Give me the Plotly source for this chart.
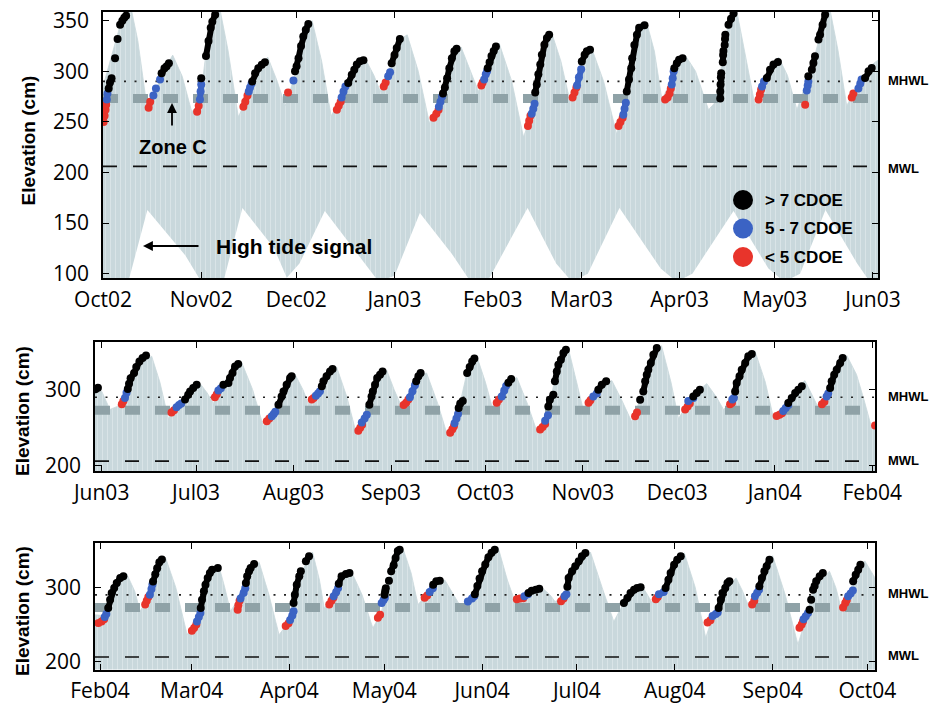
import plotly.graph_objects as go
from datetime import datetime, timedelta

# ---------------- reference levels (cm) ----------------
MHWL = 290
MWL = 206
ZONE_C = 273

PANEL_STARTS = ["2002-10-01", "2003-06-01", "2004-02-01"]
X_RANGES = [["2002-10-01", "2003-06-02 14:00"],
            ["2003-05-29 21:00", "2004-02-01 21:00"],
            ["2004-01-30 10:00", "2004-10-03 10:00"]]
Y_RANGES = [[95.7, 358.6], [193, 362.8], [189, 360.2]]
Y_TICKS = [[100, 150, 200, 250, 300, 350], [200, 300], [200, 300]]

# ---------------- high tide signal envelopes (day offset from panel start, cm) ----------------
P1_UP_DAY = [0, 3, 6, 8.5, 11, 14, 16.5, 19, 22, 25, 28, 30.5, 33, 36.5, 39.5, 42.7, 45, 48, 52, 55, 57.5,
             60.5, 63, 66, 69, 72, 75, 78, 82.5, 85.5, 87.5, 90, 93, 96, 99.5, 103, 106, 109, 113, 116, 118.5,
             121, 125, 129, 132.7, 135, 138, 141.6, 144.5, 147.4, 150, 154.3, 158, 162.1, 165, 168, 171.6, 174,
             176.4, 179.5, 183.7, 187, 191.1, 194, 196, 199.5, 202.5, 205.8, 208.5, 213.2, 216, 219, 222, 225,
             229, 232, 234.7, 238, 242, 245]
P1_UP_CM = [285, 318, 352, 368, 330, 262, 280, 300, 316, 295, 260, 268, 330, 368, 320, 255, 270, 298, 314, 290, 266,
            295, 335, 350, 310, 256, 272, 296, 314, 296, 280, 298, 330, 336, 300, 249, 265, 300, 324, 300, 280,
            300, 328, 290, 235, 255, 305, 338, 310, 270, 295, 322, 290, 238, 270, 335, 348, 320,
            272, 292, 316, 300, 262, 272, 330, 368, 320, 266, 288, 314, 296, 262, 290, 320,
            368, 320, 266, 285, 305, 312]
P1_LOW_DAY = [-1, 8, 14, 26, 31, 38, 44, 54, 58, 62, 70, 80, 87, 92, 100, 110, 116, 122, 134, 143, 148, 153,
              163, 176, 181, 186, 199, 210, 215, 220, 228, 238, 242, 246]
P1_LOW_CM = [90, 92, 163, 118, 92, 92, 165, 125, 96, 110, 162, 120, 92, 98, 160, 120, 92, 96, 165, 110, 92, 100,
             165, 105, 92, 100, 162, 105, 92, 100, 163, 110, 92, 92]

P2_UP_DAY = [-2.5, 0, 2.6, 5, 8, 12, 15.9, 18.5, 21.2, 24, 28, 31.3, 33.5, 35.5, 38, 42, 44.5, 48, 51.4, 54, 58,
             61.5, 64, 65.7, 68, 72, 74.7, 78, 81.1, 84, 87, 90.6, 93, 94.9, 98, 101.5, 103.3, 107, 110.2, 113,
             116, 119.2, 122, 124.5, 127, 130, 132, 135.5, 138.8, 142, 145, 148.4, 151, 153.1, 156, 159, 162.2,
             165.5, 168.5, 171, 174, 178, 181, 183.4, 186, 189, 192.4, 195.5, 197.7, 200.5, 203, 207.7, 211,
             213.6, 216.5, 220, 223.6, 226, 227.9, 230, 233, 236.9, 240, 242.5, 244.8, 246]
P2_UP_CM = [300, 298, 274, 278, 300, 335, 344, 310, 262, 280, 298, 308, 296, 282, 304, 330, 336, 300, 252, 268, 300,
            320, 300, 282, 294, 322, 330, 290, 240, 265, 305, 326, 300, 282, 290, 320, 322, 280, 236, 265,
            320, 345, 310, 272, 290, 312, 316, 280, 240, 275, 330, 354, 310, 274, 290, 305, 312,
            285, 258, 285, 325, 358, 310, 262, 280, 297, 308, 290, 274, 285, 320, 351, 310,
            263, 270, 298, 312, 292, 276, 285, 320, 345, 320, 285, 250, 250]

P3_UP_DAY = [-1.6, 1, 4, 8.5, 11, 12.7, 15, 18, 20.7, 24, 27.6, 30, 33, 37.6, 39.5, 41.3, 44, 47, 50.4, 53.5,
             56.7, 59.5, 63, 67.3, 69.5, 71, 73.5, 76.5, 80, 83, 86.4, 89, 93, 96, 98.5, 100.7, 103.5, 106.5,
             109.2, 112, 114.5, 117, 120, 124, 126.1, 129, 131.4, 134, 137, 139.9, 142.5, 144.1, 147, 150,
             155.3, 159, 162.7, 166, 169, 171.7, 173.5, 174.9, 177, 180, 185, 188.5, 191.8, 194, 197, 201.4,
             203.5, 205.6, 207.5, 210, 213, 217, 221, 223, 226, 231, 233, 234.8, 237, 240, 242.2, 245.4, 247]
P3_UP_CM = [263, 262, 295, 318, 295, 268, 285, 325, 341, 300, 236, 252, 300, 330, 300, 268, 285, 320, 334, 290,
            236, 252, 315, 348, 310, 272, 285, 314, 318, 290, 245, 265, 335, 352, 320, 277, 290, 307,
            310, 290, 272, 283, 312, 348, 354, 310, 281, 288, 296, 300, 290, 281, 287, 325,
            348, 300, 254, 280, 296, 302, 290, 279, 288, 312, 347, 300, 232, 260, 292, 313,
            295, 272, 285, 322, 343, 290, 223, 250, 300, 322, 300, 270, 290, 326, 336, 313, 310]

N = None
# ---------------- CDOE dots: panel 1 (days from 2002-10-01) ----------------
P1_RED_DAY = [0.2, 0.5, 0.8, 1.0, N, 14.4, 14.9, N, 29.7, 30.2, N, 44.3, 44.9, 45.6, N, 58.4, N, 73.8, 74.4, 75.0, N,
              88.6, 89.2, N, 104.3, 105.2, 105.9, N, 119.4, 119.8, N, 134.1, 134.5, 134.9, N, 148.2, 148.8, 149.4, N,
              162.7, 163.3, 164.0, N, 177.4, 178.2, 178.8, 179.2, N, 206.9, 207.3, 207.7, N, 221.6, N, 236.3, 236.8]
P1_RED_CM = [250, 256, 262, 267, N, 264, 270, N, 260, 266, N, 265, 270, 276, N, 279, N, 262, 266, 270, N,
             285, 289, N, 254, 258, 262, N, 286, 289, N, 246, 251, 256, N, 274, 279, 284, N,
             246, 250, 254, N, 272, 274, 278, 283, N, 272, 277, 282, N, 267, N, 274, 278]
P1_BLUE_DAY = [1.2, 1.4, N, 15.9, N, 16.7, N, 18.0, N, 30.6, 30.8, 31.0, N, 46.0, 46.4, 46.9, N, 60.1, N,
               75.3, 75.9, 76.5, N, 90.0, 90.6, N, 106.0, 106.5, 107.0, N, 120.3, 120.8, 121.2, N,
               135.3, 135.8, 136.2, N, 149.6, 150.2, 150.9, N, 164.2, 164.6, 165.0, N, 179.5, 179.8, 180.1, N,
               208.0, 208.6, N, 222.1, 222.4, 222.6, N, 238.4, 239.0, 239.4]
P1_BLUE_CM = [272, 278, N, 276, N, 283, N, 292, N, 272, 280, 287, N, 280, 284, 288, N, 291, N,
              274, 280, 285, N, 295, 299, N, 265, 270, 275, N, 292, 297, 300, N,
              258, 263, 268, N, 286, 294, 302, N, 257, 263, 269, N, 287, 293, 300, N,
              285, 290, N, 281, 286, 290, N, 283, 288, 292]
P1_BLACK_DAY = [1.8, 2.2, 2.7, N, 3.8, N, 4.6, N, 5.4, N, 6.1, 6.7, 7.3, N,
                18.5, 19.4, 20.1, 20.8, N, 31.0, N, 32.5, 33.3, 34.0, 34.5, 35.4, N,
                47.1, 48.0, 49.0, 50.1, 51.1, N, 60.6, 61.1, 61.7, 62.5, 63.2, 64.0, 64.8, N,
                77.4, 78.5, 79.3, 80.1, 81.1, 82.2, N, 91.1, 92.0, 92.7, 93.7, N,
                107.3, 107.9, 108.6, 109.3, 110.1, 110.9, 111.6, N, 121.4, 122.0, 122.6, 123.3, 124.0, N,
                136.4, 136.9, 137.4, 138.0, 138.5, 139.3, 140.1, 140.8, N, 151.1, 152.0, 152.7, 153.7, N,
                165.3, 166.0, 166.7, 167.0, 167.7, 168.5, 169.2, 170.9, N, 180.3, 181.1, 181.8, 182.9, N,
                194.8, 194.8, 194.9, 195.0, 195.1, N, 195.6, 195.7, 195.8, N, 196.2, 196.3, 196.4, N,
                197.4, 198.2, 199.0, N, 209.5, 210.5, 211.6, 213.0, N, 222.6, N, 223.7, 224.2, 224.7, N,
                225.8, 226.3, 227.1, 227.9, N, 240.5, 241.6, 242.6]
P1_BLACK_CM = [283, 289, 293, N, 313, N, 332, N, 346, N, 350, 353, 355, N,
               298, 303, 305, 308, N, 293, N, 315, 330, 343, 349, 356, N,
               290, 298, 303, 306.5, 309, N, 300, 305, 313, 325, 334.5, 341, 346.7, N,
               288.5, 296.7, 301.6, 306.6, 309.9, 310.8, N, 308, 316, 323, 332, N,
               278, 284, 293, 303, 313, 319.7, 322.4, N, 303, 309, 315, 320, 324.5, N,
               279, 287, 297, 306.6, 316.4, 326.3, 332.9, 336.2, N, 309.8, 316.4, 319.7, 321.4, N,
               280, 292, 303, 313, 326, 336, 343, 345.4, N, 303, 308, 311.5, 313, N,
               273, 280, 287, 294, 298, N, 309, 316, 320, N, 326, 332, 336, N,
               346, 352, 357, N, 293.4, 301.6, 306.6, 309.2, N, 295, N, 301.6, 308.2, 314.8, N,
               331.3, 336.2, 346, 356, N, 293.4, 300, 303.3]

# ---------------- CDOE dots: panel 2 (days from 2003-06-01) ----------------
P2_RED_DAY = [6.4, 6.9, N, 22.2, 23.0, N, 36.0, 36.6, N, 52.5, 53.3, N, 66.8, 67.4, N, 81.6, 82.2, 82.8, N,
              96.0, 96.8, 97.5, N, 110.8, 111.5, 112.0, N, 125.6, 126.3, N, 139.4, 140.2, 141.0, N, 154.8, 155.4, N,
              169.6, 170.2, N, 185.5, 186.3, 187.0, N, 199.8, 200.4, N, 214.6, 215.5, 216.3, N, 229.0, 229.8, N, 245.9]
P2_RED_CM = [281, 285, N, 270, 273, N, 290, 294, N, 258.5, 262, N, 287, 289, N, 246, 250, 254, N,
             280, 283, 287, N, 243.5, 248, 252, N, 283, 287, N, 247.5, 251, 255, N, 283, 286, N,
             265, 270, N, 274, 278, 282, N, 281, 283, N, 265.5, 267, 269, N, 281, 284, N, 253]
P2_BLUE_DAY = [7.4, 7.9, N, 23.8, 24.6, 25.3, N, 37.1, 37.9, N, 54.1, 54.7, 55.2, N, 68.1, 68.8, 69.4, N,
               82.7, 83.6, 84.3, N, 98.0, 98.8, 99.6, N, 112.2, 112.8, 113.3, N, 127.2, 128.0, 128.6, N,
               141.0, 141.9, N, 156.3, 157.4, N, 186.5, 188.1, N, 200.5, 201.0, N, 216.7, 217.5, 218.3, N,
               230.5, 231.0]
P2_BLUE_CM = [289, 296, N, 277, 280, 282, N, 299, 302, N, 265, 268, 271, N, 292, 295, 298, N,
              257, 262, 267, N, 290, 298, 306, N, 256, 262, 268, N, 291, 299, 305, N,
              259, 266.5, N, 291, 295, N, 285, 289, N, 287, 289, N, 272, 276, 280, N,
              291, 295]
P2_BLACK_DAY = [-2.0, -1.2, N, 8.3, 8.7, 9.2, 10.3, 11.0, 12.0, 13.0, 14.1, N, 26.5, 27.5, 28.1, 29.1, 30.2, N,
                38.7, 40.3, 40.8, 41.6, 42.4, 43.4, N, 56.2, 57.2, 57.8, 58.8, 59.9, 60.4, N,
                70.0, 70.5, 71.5, 72.6, 73.4, N, 85.1, 85.8, 86.2, 86.9, 87.6, 88.5, 89.3, N,
                100.0, 100.7, 101.4, N, 113.5, 114.0, N, 114.8, N, 116.2, 117.0, 117.8, 118.5, N,
                129.3, 130.2, N, 142.0, 142.5, 143.6, N, 144.1, 144.7, 145.2, 146.0, 146.8, 147.6, N,
                157.9, 159.0, 160.4, N, 171.2, N, 172.2, 172.8, 173.3, 173.8, 174.6, 175.4, 176.5, N,
                188.1, 189.2, 190.2, N, 201.4, 201.9, 202.8, 203.5, 204.6, 205.6, 206.7, N,
                218.3, 219.4, 220.5, 221.5, 222.6, N, 231.6, 232.1, 232.9, 233.7, 234.8, 235.6]
P2_BLACK_CM = [300.5, 302.5, N, 301, 308, 315, 322, 330, 337, 341.7, 345, N, 287, 293.4, 297.8, 302.2, 306.6, N,
               306.6, 308.8, 315.4, 322, 330.7, 333.8, N, 280.3, 291.2, 297.8, 306.6, 315.4, 317.6, N,
               304.4, 311, 317.6, 324.1, 327.2, N, 280.3, 291.2, 297.8, 306.6, 315.4, 319.8, 324.1, N,
               311, 317.6, 322, N, 276, 282, N, 285, N, 322, 330, 337, 341, N,
               309, 314, N, 278, 286.9, 293.4, N, 311, 324.1, 332.9, 339.5, 348.3, 352.6, N,
               300, 306.6, 311, N, 286.9, N, 297.8, 311, 319.8, 326.3, 335.1, 346.1, 354.8, N,
               291.2, 295.6, 300, N, 297.8, 308.8, 317.6, 326.3, 335.1, 343.9, 347, N,
               282.5, 289, 295.6, 300, 304.4, N, 302.2, 311, 319.8, 326.3, 335.1, 341.7]

# ---------------- CDOE dots: panel 3 (days from 2004-02-01) ----------------
P3_RED_DAY = [-0.5, 0.5, 1.3, N, 14.3, 14.8, 15.3, N, 29.1, 29.8, 30.5, N, 43.6, 43.8, 44.2, N, 58.8, 59.7, N,
              72.6, 73.3, 73.9, N, 88.0, 88.7, N, 102.8, 103.6, N, 132.0, 133.0, 134.0, N, 146.0, 146.8, N,
              176.0, 176.6, N, 192.4, 193.3, N, 206.5, 207.2, N, 221.5, 222.2, 222.6, N, 235.3, 236.0, 236.5]
P3_RED_CM = [252, 254, 257, N, 277, 282, 287, N, 241.5, 245, 250, N, 270, 276, 282, N, 248, 251.5, N,
             277, 282, 286, N, 259, 263, N, 286, 289, N, 284, 285, 285.5, N, 281.5, 285, N,
             284, 287, N, 252.5, 255.5, N, 277, 282, N, 245.5, 250, 254, N, 273, 279, 283]
P3_BLUE_DAY = [1.5, 2.0, N, 15.8, 16.3, 16.6, N, 30.7, 31.3, 31.8, N, 44.5, 45.5, 46.0, N, 60.2, 60.9, 61.3, N,
               74.0, 74.8, 75.4, N, 89.2, 89.8, 90.2, N, 104.4, 105.4, N, 116.5, 117.8, 118.5, N, 134.4, 135.5, N,
               147.1, 147.7, N, 177.0, 178.5, N, 194.0, 195.0, 195.6, N, 207.4, 208.1, 208.7, N,
               222.8, 223.5, 224.2, N, 236.9, 237.7, 238.4]
P3_BLUE_CM = [260, 264, N, 290, 298, 304, N, 254, 260, 265.5, N, 285, 293, 299, N, 256, 262, 267.7, N,
              288, 294, 299.3, N, 279, 283, 286, N, 294, 299, N, 281, 285, 288, N, 288, 291, N,
              288, 291, N, 291, 294, N, 261.5, 264, 266, N, 288, 293, 297, N,
              257, 261, 265.5, N, 288, 292, 296]
P3_BLACK_DAY = [2.6, 3.2, 3.7, 4.5, 5.3, 6.4, 7.4, N, 16.8, 17.5, 18.1, 18.8, 19.6, N,
                31.9, 32.3, 32.9, 33.4, 34.1, 34.8, 35.5, N, 37.3, N, 46.2, 46.6, 47.2, 47.7, 48.8, N,
                61.3, 61.7, 62.3, 63.1, N, 63.6, N, 65.2, 66.2, N, 75.6, 76.5, 77.9, 79.0, N,
                90.1, 90.3, 90.5, N, 91.5, N, 92.2, 93.0, 93.6, 94.3, 94.9, N, 105.5, 106.5, 107.6, N,
                118.7, 119.5, 120.2, 121.0, 122.0, 123.0, 124.0, 125.0, N, 135.7, 136.7, 138.0, 139.1, N,
                148.0, 148.4, 149.5, 150.5, 151.6, 152.6, 153.7, N, 165.9, 167.0, 168.0, 169.1, 170.1, 171.2, N,
                179.1, 180.0, 180.7, 181.8, 182.8, 183.9, N, 195.9, 196.6, 197.1, 198.0, 198.7, 199.3, N,
                208.8, 209.6, 210.4, 211.1, 212.0, N, 224.7, N, 225.2, N, 225.8, N, 226.3, N, 226.8, 227.9, 228.9, N,
                238.5, 239.3, 240.1, 240.8]
P3_BLACK_CM = [272.3, 283.5, 292.5, 299.3, 306.1, 312.9, 315.1, N, 308, 318, 326, 334, 338, N,
               272.3, 283.5, 294.8, 303.8, 312.8, 319.6, 324.1, N, 326.4, N, 306.1, 315.1, 321.9, 326.4, 331.8, N,
               279, 290.3, 303.8, 315.1, N, 321.9, N, 335.4, 342.2, N, 305, 315.1, 318.3, 319.6, N,
               290, 294.8, 299, N, 309.2, N, 321.9, 330, 340, 349.5, 351, N, 303.8, 308.3, 309.2, N,
               291, 302, 312, 322, 331, 341, 347, 351, N, 292.6, 295.7, 297, 298.4, N,
               301, 312.8, 321.9, 328.6, 335.4, 342.2, 346.7, N, 279, 285.8, 292.6, 297, 299.3, 300.2, N,
               299.3, 310.6, 319.6, 330.9, 337.7, 342.2, N, 272.3, 283.5, 292.5, 299.3, 306.1, 308.3, N,
               301.6, 312.8, 321.9, 328.6, 337.7, N, 270, N, 283.5, N, 297, N, 302, N, 308.3, 315.1, 319.6, N,
               308.3, 317.3, 324.1, 330.9]

LEGEND_LABELS = ["> 7 CDOE", "5 - 7 CDOE", "< 5 CDOE"]

# ---------------- styling ----------------
W, H = 929, 707
FILL = "#c9d8dc"
ZONE_GRAY = "#8fa2a7"
C_BLACK, C_BLUE, C_RED = "#000000", "#3b63c4", "#e8342b"
TICK_FONT = dict(family="Open Sans", size=21, color="black")
BOLD = "Liberation Sans"

DOMAINS_X = [[103 / W, 878 / W], [95 / W, 875 / W], [95 / W, 875 / W]]
DOMAINS_Y = [[1 - 278 / H, 1 - 12 / H], [1 - 471 / H, 1 - 342 / H], [1 - 669.5 / H, 1 - 543 / H]]


def to_dates(start, days):
    base = datetime.fromisoformat(start)
    return [None if d is None else base + timedelta(days=d) for d in days]


envelopes = [(P1_UP_DAY, P1_UP_CM), (P2_UP_DAY, P2_UP_CM), (P3_UP_DAY, P3_UP_CM)]
dots = [
    [(P1_RED_DAY, P1_RED_CM, C_RED), (P1_BLUE_DAY, P1_BLUE_CM, C_BLUE), (P1_BLACK_DAY, P1_BLACK_CM, C_BLACK)],
    [(P2_RED_DAY, P2_RED_CM, C_RED), (P2_BLUE_DAY, P2_BLUE_CM, C_BLUE), (P2_BLACK_DAY, P2_BLACK_CM, C_BLACK)],
    [(P3_RED_DAY, P3_RED_CM, C_RED), (P3_BLUE_DAY, P3_BLUE_CM, C_BLUE), (P3_BLACK_DAY, P3_BLACK_CM, C_BLACK)],
]

PATTERN = dict(shape="|", bgcolor=FILL, fgcolor="white", fgopacity=0.4, size=5, solidity=0.15)

fig = go.Figure()
for i in range(3):
    xa = "x" if i == 0 else f"x{i + 1}"
    ya = "y" if i == 0 else f"y{i + 1}"
    start = PANEL_STARTS[i]
    up_d, up_c = envelopes[i]
    if i == 0:
        fig.add_trace(go.Scatter(x=to_dates(start, P1_LOW_DAY), y=P1_LOW_CM, mode="lines",
                                 line=dict(width=0, color=FILL), xaxis=xa, yaxis=ya,
                                 showlegend=False, hoverinfo="skip"))
        fill = "tonexty"
    else:
        fill = "tozeroy"
    fig.add_trace(go.Scatter(x=to_dates(start, up_d), y=up_c, mode="lines", fill=fill,
                             fillcolor=FILL, fillpattern=PATTERN, line=dict(width=0.8, color=FILL),
                             xaxis=xa, yaxis=ya, showlegend=False, hoverinfo="skip"))
    xr = X_RANGES[i]
    for level, col, width, dash in [(ZONE_C, ZONE_GRAY, 9, "15px,15px"),
                                    (MHWL, "#222222", 1.6, "2px,8.5px"),
                                    (MWL, "#111111", 1.6, "14px,16px")]:
        fig.add_trace(go.Scatter(x=xr, y=[level, level], mode="lines",
                                 line=dict(color=col, width=width, dash=dash),
                                 xaxis=xa, yaxis=ya, showlegend=False, hoverinfo="skip"))
    for dd, cc, col in dots[i]:
        fig.add_trace(go.Scatter(x=to_dates(start, dd), y=cc, mode="lines+markers",
                                 line=dict(color=col, width=6), marker=dict(color=col, size=8),
                                 xaxis=xa, yaxis=ya, showlegend=False, connectgaps=False))

layout = dict(template="none", width=W, height=H, margin=dict(l=0, r=0, t=0, b=0, autoexpand=False),
              paper_bgcolor="white", plot_bgcolor="white", showlegend=False)
for i in range(3):
    xk = "xaxis" if i == 0 else f"xaxis{i + 1}"
    yk = "yaxis" if i == 0 else f"yaxis{i + 1}"
    ya = "y" if i == 0 else f"y{i + 1}"
    xa = "x" if i == 0 else f"x{i + 1}"
    layout[xk] = dict(domain=DOMAINS_X[i], anchor=ya, type="date", range=X_RANGES[i], automargin=False,
                      dtick="M1", tickformat="%b%y", ticks="inside", ticklen=6, tickwidth=1.3,
                      tickcolor="black", showline=True, linecolor="black", linewidth=1.5,
                      mirror="ticks", showgrid=False, zeroline=False, tickfont=TICK_FONT,
                      ticklabelstandoff=2)
    layout[yk] = dict(domain=DOMAINS_Y[i], anchor=xa, range=Y_RANGES[i], tickvals=Y_TICKS[i],
                      automargin=False,
                      ticks="inside", ticklen=6, tickwidth=1.3, tickcolor="black",
                      showline=True, linecolor="black", linewidth=1.5, mirror="ticks",
                      showgrid=False, zeroline=False, tickfont=TICK_FONT, ticklabelstandoff=8)
fig.update_layout(**layout)


def px(x):
    return x / W


def py(y):
    return 1 - y / H


ann = []
# y-axis titles
for xc, yc in [(27.5, 141), (22, 411), (22, 611)]:
    ann.append(dict(x=px(xc), y=py(yc), xref="paper", yref="paper", text="<b>Elevation (cm)</b>",
                    textangle=-90, showarrow=False, font=dict(family=BOLD, size=19, color="black"),
                    xanchor="center", yanchor="middle"))
# MHWL / MWL side labels
for yc, txt in [(80, "MHWL"), (168, "MWL"), (396.7, "MHWL"), (460, "MWL"), (593.3, "MHWL"), (655, "MWL")]:
    ann.append(dict(x=px(886), y=py(yc), xref="paper", yref="paper", text=f"<b>{txt}</b>",
                    showarrow=False, font=dict(family=BOLD, size=13, color="black"),
                    xanchor="left", yanchor="middle"))
# Zone C and High tide signal labels with arrows
ann.append(dict(x=px(173), y=py(147), xref="paper", yref="paper", text="<b>Zone C</b>",
                showarrow=False, font=dict(family=BOLD, size=20, color="black"),
                xanchor="center", yanchor="middle"))
ann.append(dict(x=px(172), y=py(103), xref="paper", yref="paper", text="", showarrow=True,
                ax=0, ay=24, arrowhead=2, arrowsize=1.1, arrowwidth=1.8, arrowcolor="black"))
ann.append(dict(x=px(294), y=py(246), xref="paper", yref="paper", text="<b>High tide signal</b>",
                showarrow=False, font=dict(family=BOLD, size=21, color="black"),
                xanchor="center", yanchor="middle"))
ann.append(dict(x=px(143), y=py(246), xref="paper", yref="paper", text="", showarrow=True,
                ax=57, ay=0, arrowhead=2, arrowsize=1.1, arrowwidth=1.8, arrowcolor="black"))
# legend
shapes = []
for (yc, col, lab) in zip([200, 228.5, 257], [C_BLACK, C_BLUE, C_RED], LEGEND_LABELS):
    shapes.append(dict(type="circle", xref="paper", yref="paper", xsizemode="pixel", ysizemode="pixel",
                       xanchor=px(743), yanchor=py(yc), x0=-10, x1=10, y0=-10, y1=10,
                       fillcolor=col, line=dict(width=0)))
    ann.append(dict(x=px(763), y=py(yc), xref="paper", yref="paper", text=f"<b>{lab}</b>",
                    showarrow=False, font=dict(family=BOLD, size=17, color="black"),
                    xanchor="left", yanchor="middle"))
fig.update_layout(annotations=ann, shapes=shapes)

fig.write_html("out.html", config={"displayModeBar": False},
               post_script="document.body.style.margin='0px';document.body.style.padding='0px';"
                           "document.documentElement.style.overflow='hidden';")
